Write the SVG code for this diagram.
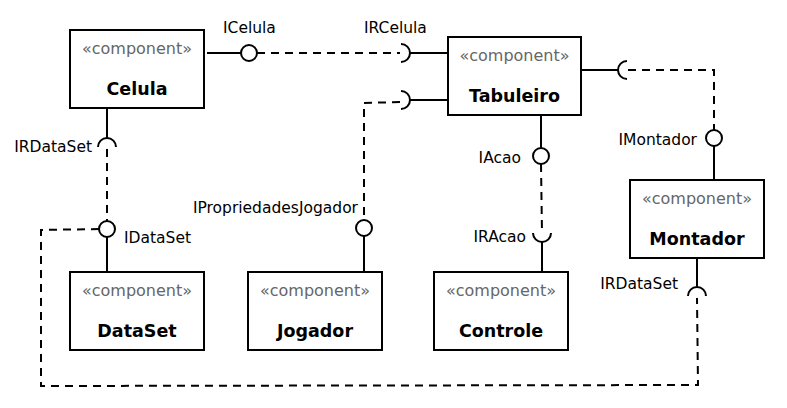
<svg xmlns="http://www.w3.org/2000/svg" width="787" height="408" viewBox="0 0 787 408">
<style>
.box{fill:#fff;stroke:#000;stroke-width:2}
.st{font-family:"DejaVu Sans",sans-serif;font-size:16px;fill:#666;text-anchor:middle}
.nm{font-family:"DejaVu Sans",sans-serif;font-size:17.5px;font-weight:bold;fill:#000;text-anchor:middle}
.lb{font-family:"DejaVu Sans",sans-serif;font-size:15.5px;fill:#000}
.e{text-anchor:end}
.s{fill:none;stroke:#000;stroke-width:2}
.d{fill:none;stroke:#000;stroke-width:2;stroke-dasharray:8 6}
.c{fill:#fff;stroke:#000;stroke-width:2}
</style>
<rect width="787" height="408" fill="#fff"/>
<g id="connectors">
<line class="s" x1="207" y1="53" x2="241" y2="53"/>
<circle class="c" cx="249" cy="53" r="8"/>
<line class="d" x1="257" y1="53" x2="400" y2="53"/>
<path class="s" d="M401 44 A9 9 0 0 1 401 62"/>
<line class="s" x1="410" y1="53" x2="448" y2="53"/>
<polyline class="d" points="400,102 364,103 364,220"/>
<path class="s" d="M401 91 A9 9 0 0 1 401 109"/>
<line class="s" x1="410" y1="100" x2="448" y2="100"/>
<circle class="c" cx="364" cy="228" r="8"/>
<line class="s" x1="364" y1="236" x2="364" y2="272"/>
<line class="s" x1="582" y1="70" x2="618" y2="70"/>
<path class="s" d="M627 61 A9 9 0 0 0 627 79"/>
<polyline class="d" points="628,70 714,70 714,130"/>
<circle class="c" cx="714" cy="138" r="8"/>
<line class="s" x1="714" y1="146" x2="714" y2="180"/>
<line class="s" x1="541" y1="115" x2="541" y2="148"/>
<circle class="c" cx="541" cy="156" r="8"/>
<line class="d" x1="541" y1="164" x2="542" y2="233"/>
<path class="s" d="M533 233 A9 9 0 0 0 551 233"/>
<line class="s" x1="542" y1="242" x2="542" y2="272"/>
<line class="s" x1="107" y1="108" x2="107" y2="138"/>
<path class="s" d="M98 147 A9 9 0 0 1 116 147"/>
<line class="d" x1="107" y1="149" x2="107" y2="221"/>
<circle class="c" cx="107" cy="229" r="8"/>
<line class="s" x1="107" y1="237" x2="107" y2="272"/>
<polyline class="d" points="99,229 41,230 41,386 698,385 697,298"/>
<line class="s" x1="697" y1="258" x2="697" y2="287"/>
<path class="s" d="M688 296 A9 9 0 0 1 706 296"/>
<text class="lb" x="223" y="33">ICelula</text>
<text class="lb" x="364" y="33">IRCelula</text>
<text class="lb e" x="92" y="152">IRDataSet</text>
<text class="lb" x="124" y="243">IDataSet</text>
<text class="lb e" x="358" y="213">IPropriedadesJogador</text>
<text class="lb e" x="521" y="163">IAcao</text>
<text class="lb e" x="697" y="145">IMontador</text>
<text class="lb e" x="526" y="242">IRAcao</text>
<text class="lb e" x="678" y="289">IRDataSet</text>
</g>
<g id="Celula">
<rect class="box" x="70" y="30" width="134" height="78"/>
<text class="st" x="137" y="54">«component»</text>
<text class="nm" x="137" y="95">Celula</text>
</g>
<g id="Tabuleiro">
<rect class="box" x="448" y="37" width="133" height="78"/>
<text class="st" x="514.5" y="61">«component»</text>
<text class="nm" x="514.5" y="102">Tabuleiro</text>
</g>
<g id="Montador">
<rect class="box" x="630" y="180" width="134" height="78"/>
<text class="st" x="697" y="204">«component»</text>
<text class="nm" x="697" y="245">Montador</text>
</g>
<g id="DataSet">
<rect class="box" x="70" y="272" width="134" height="78"/>
<text class="st" x="137" y="296">«component»</text>
<text class="nm" x="137" y="337">DataSet</text>
</g>
<g id="Jogador">
<rect class="box" x="248" y="272" width="134" height="78"/>
<text class="st" x="315" y="296">«component»</text>
<text class="nm" x="315" y="337">Jogador</text>
</g>
<g id="Controle">
<rect class="box" x="434" y="272" width="134" height="78"/>
<text class="st" x="501" y="296">«component»</text>
<text class="nm" x="501" y="337">Controle</text>
</g>
</svg>
